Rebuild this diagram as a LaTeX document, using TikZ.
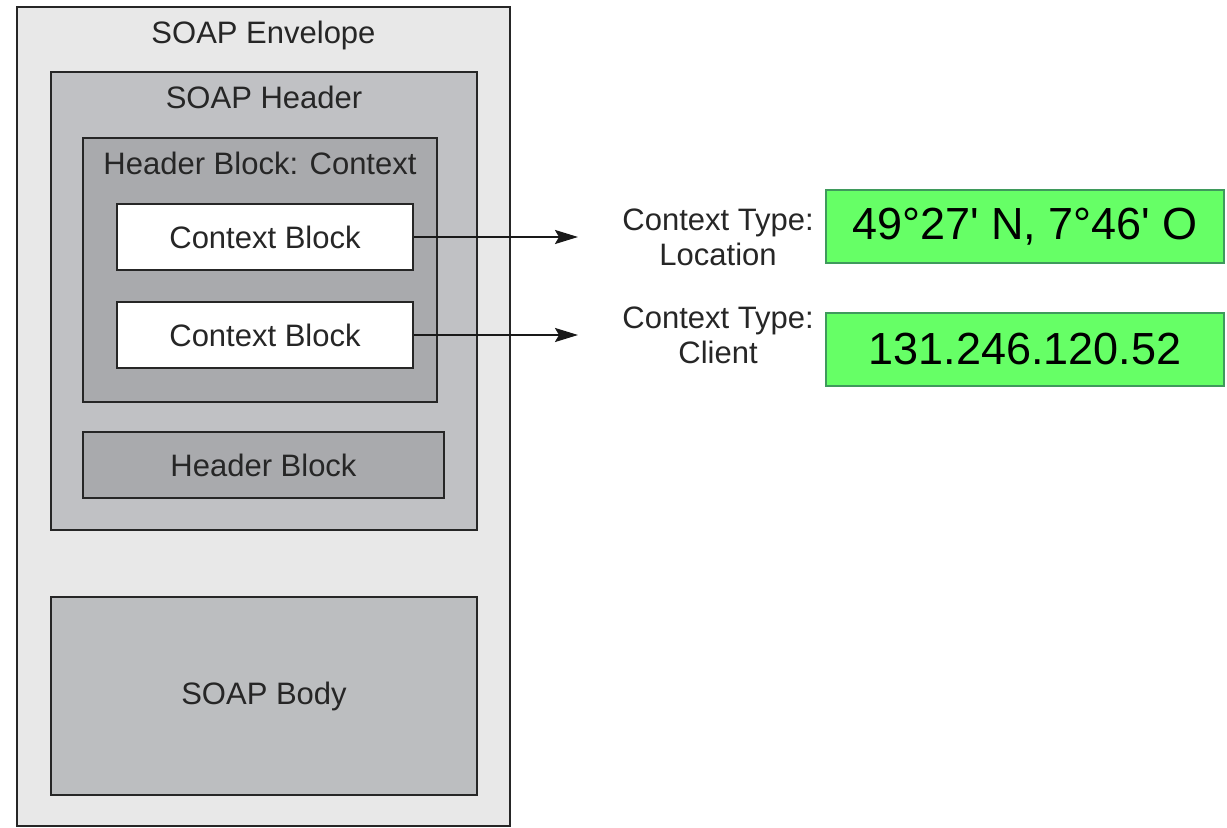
\documentclass[tikz,border=0pt]{standalone}
\usepackage{fontspec}
\setmainfont{Liberation Sans}
\usetikzlibrary{positioning,fit,arrows.meta}

\definecolor{envgray}{HTML}{E8E8E8}
\definecolor{hdrgray}{HTML}{C0C1C4}
\definecolor{blkgray}{HTML}{A9AAAD}
\definecolor{bodygray}{HTML}{BCBEC0}
\definecolor{valgreen}{HTML}{66FF66}
\definecolor{valborder}{HTML}{3F9A5C}

\begin{document}
\begin{tikzpicture}[x=0.5pt,y=-0.5pt,
    box/.style={draw=black!85, line width=1.4pt, inner sep=0pt},
    title/.style={inner sep=0pt, font=\fontsize{15.5}{18}\selectfont, text=black!85},
    valbox/.style={draw=valborder, line width=1pt, fill=valgreen, inner sep=0pt},
    valtext/.style={inner sep=0pt, font=\fontsize{22.5}{26}\selectfont},
    typelabel/.style={inner sep=0pt, align=center,
      font=\fontsize{15.5}{17.5}\selectfont, text=black!85},
    ctxarrow/.style={line width=1.1pt, black!90, -{Stealth[length=11.5pt,width=7pt,inset=2pt]}}]
    \useasboundingbox (0,0) rectangle (1227,828);
    % envelope and its parts
    \node[box, fill=envgray, fit={(17,7) (510,826)}] (env) {};
    \node[title, below=7.5pt of env.north] (envtitle) {SOAP Envelope};
    \node[box, fill=hdrgray, fit={(51,72) (477,530)}] (hdr) {};
    \node[title, below=7.5pt of hdr.north] (hdrtitle) {SOAP Header};
    \node[box, fill=blkgray, fit={(83,138) (437,402)}] (ctxblk) {};
    \node[title, below=7.5pt of ctxblk.north] (ctxtitle) {Header Block: Context};
    \node[box, fill=white, fit={(117,204) (413,270)}] (ctxa) {};
    \node[title] at (ctxa.center) (ctxatext) {Context Block};
    \node[box, fill=white, fit={(117,302) (413,368)}] (ctxb) {};
    \node[title] at (ctxb.center) (ctxbtext) {Context Block};
    \node[box, fill=blkgray, fit={(83,432) (444,498)}] (hdrblk) {};
    \node[title] at (hdrblk.center) (hdrblktext) {Header Block};
    \node[box, fill=bodygray, fit={(51,597) (477,795)}] (body) {};
    \node[title] at (body.center) (bodytext) {SOAP Body};

    % context values
    \node[valbox, fit={(826,190) (1224,263)}] (locval) {};
    \node[valtext] at (locval.center) (locvaltext) {49°27\textquotesingle{} N, 7°46\textquotesingle{} O};
    \node[valbox, fit={(826,313) (1224,386)}] (clival) {};
    \node[valtext] at (clival.center) (clivaltext) {131.246.120.52};
    \coordinate (locend) at (578,237);
    \coordinate (cliend) at (578,335);
    \node[typelabel, right=22pt of locend] (loctype) {Context Type:\\Location};
    \node[typelabel, right=22pt of cliend] (clitype) {Context Type:\\Client};

    \draw[ctxarrow] (ctxa.east) -- (locend);
    \draw[ctxarrow] (ctxb.east) -- (cliend);
\end{tikzpicture}
\end{document}
